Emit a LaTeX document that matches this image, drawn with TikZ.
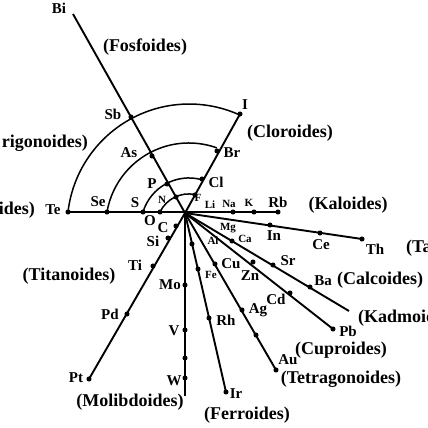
\documentclass[tikz,border=0pt]{standalone}
\usepackage{fontspec}
\setmainfont{Liberation Serif}
\begin{document}
\begin{tikzpicture}[x=1pt,y=-1pt]
	\tikzstyle{every node}+=[inner sep=0pt]
	\tikzstyle{el}=[font=\fontsize{15}{15}\selectfont\bfseries]
	\tikzstyle{sm}=[font=\fontsize{11}{11}\selectfont\bfseries]
	\tikzstyle{grp}=[font=\fontsize{18}{18}\selectfont\bfseries]
	\tikzstyle{pt}=[circle,fill=black,inner sep=1.8pt]
	\tikzstyle{ray}=[black,line width=1.9pt]
	\tikzstyle{ring}=[black,line width=1.5pt]
	\useasboundingbox (0,0) rectangle (428,428);
	% centre and free ends
	\coordinate (o) at (185,213);
	\coordinate (bi) at (73,14);
	\coordinate (mo) at (185,396);
	\coordinate (ka) at (349,311);
	% Fosfoides
	\node [pt] (Sb) at (131,117) {};
	\node [pt] (As) at (152,156) {};
	\node [pt] (P) at (167,184) {};
	\node [pt] (N) at (176,197) {};
	% Cloroides
	\node [pt] (I) at (240,114) {};
	\node [pt] (Br) at (217,151) {};
	\node [pt] (Cl) at (202,179) {};
	\node [pt] (F) at (195,195) {};
	% horizontal
	\node [pt] (Te) at (68,212) {};
	\node [pt] (Se) at (107,212) {};
	\node [pt] (S) at (143,212) {};
	\node [pt] (O) at (160,212) {};
	\node [pt] (Na) at (233,212) {};
	\node [pt] (K) at (254,212) {};
	\node [pt] (Rb) at (278,212) {};
	% Titanoides
	\node [pt] (C) at (176,226) {};
	\node [pt] (Si) at (168,238) {};
	\node [pt] (Ti) at (153,266) {};
	\node [pt] (Pd) at (127,314) {};
	\node [pt] (Pt) at (89,379) {};
	% Molibdoides
	\node [pt] (Mo) at (185,285) {};
	\node [pt] (V) at (185,330) {};
	\node [pt] (mx) at (185,358) {};
	\node [pt] (W) at (185,378) {};
	% Ferroides
	\node [pt] (Al) at (192,244) {};
	\node [pt] (Fe) at (198,269) {};
	\node [pt] (Rh) at (209,318) {};
	\node [pt] (Ir) at (226,392) {};
	% Tetragonoides
	\node [pt] (Cu) at (215,264) {};
	\node [pt] (Ag) at (242,310) {};
	\node [pt] (tx) at (256,335) {};
	\node [pt] (Au) at (276,370) {};
	% Cuproides
	\node [pt] (Zn) at (253,262) {};
	\node [pt] (Cd) at (290,293) {};
	\node [pt] (Pb) at (333,329) {};
	% Kadmoides
	\node [pt] (Ca) at (232,241) {};
	\node [pt] (Sr) at (273,265) {};
	\node [pt] (Ba) at (310,287) {};
	% Calcoides
	\node [pt] (In) at (270,225) {};
	\node [pt] (Ce) at (320,233) {};
	\node [pt] (Th) at (362,239) {};
	% rays
	\draw [ray] (o) -- (bi);
	\draw [ray] (o) -- (I.center);
	\draw [ray] (Te.center) -- (Rb.center);
	\draw [ray] (o) -- (Pt.center);
	\draw [ray,line width=2.4pt] (o) -- (mo);
	\draw [ray] (o) -- (Ir.center);
	\draw [ray] (o) -- (Au.center);
	\draw [ray] (o) -- (Pb.center);
	\draw [ray] (o) -- (ka);
	\draw [ray] (o) -- (Th.center);
	% arcs
	\draw [ring] (Te.center) arc [start angle=186.6, end angle=294.5, radius=122];
	\draw [ring] (Se.center) arc [start angle=189.7, end angle=289.8, radius=83];
	\draw [ring] (S.center) arc [start angle=196.9, end angle=285.5, radius=48];
	\draw [ring] (O.center) arc [start angle=205.8, end angle=281, radius=32];
	% labels
	\node [el] (lBi) at (59,8) {Bi};
	\node [el] (lSb) at (113,114) {Sb};
	\node [el] (lAs) at (129,153) {As};
	\node [el] (lP) at (152,184) {P};
	\node [sm] (lN) at (162,200) {N};
	\node [el] (lI) at (245,105) {I};
	\node [el] (lBr) at (232,153) {Br};
	\node [el] (lCl) at (216,182) {Cl};
	\node [sm] (lF) at (198,198) {F};
	\node [sm] (lLi) at (210,205) {Li};
	\node [sm] (lNa) at (229,204) {Na};
	\node [sm] (lK) at (249,203) {K};
	\node [el] (lRb) at (278,202) {Rb};
	\node [el] (lTe) at (53,210) {Te};
	\node [el] (lSe) at (98,202) {Se};
	\node [el] (lS) at (135,203) {S};
	\node [el] (lO) at (150,221) {O};
	\node [el] (lC) at (163,228) {C};
	\node [el] (lSi) at (153,241) {Si};
	\node [el] (lTi) at (135,265) {Ti};
	\node [el] (lPd) at (110,314) {Pd};
	\node [el] (lPt) at (76,378) {Pt};
	\node [el] (lMo) at (170,285) {Mo};
	\node [el] (lV) at (174,331) {V};
	\node [el] (lW) at (174,381) {W};
	\node [sm] (lAl) at (213,241) {Al};
	\node [sm] (lFe) at (211,275) {Fe};
	\node [el] (lRh) at (226,320) {Rh};
	\node [el] (lIr) at (236,394) {Ir};
	\node [el] (lCu) at (231,264) {Cu};
	\node [el] (lAg) at (258,310) {Ag};
	\node [el] (lAu) at (288,360) {Au};
	\node [el] (lZn) at (250,276) {Zn};
	\node [el] (lCd) at (276,299) {Cd};
	\node [el] (lPb) at (348,331) {Pb};
	\node [sm] (lMg) at (228,228) {Mg};
	\node [sm] (lCa) at (245,239) {Ca};
	\node [el] (lSr) at (288,261) {Sr};
	\node [el] (lBa) at (323,281) {Ba};
	\node [el] (lIn) at (274,236) {In};
	\node [el] (lCe) at (321,245) {Ce};
	\node [el] (lTh) at (375,249) {Th};
	% groups
	\node [grp] (gFos) at (145,47) {(Fosfoides)};
	\node [grp,anchor=east] (gTri) at (88,143) {rigonoides)};
	\node [grp,anchor=east] (gTio) at (35,210) {ides)};
	\node [grp] (gClo) at (290,133) {(Cloroides)};
	\node [grp] (gKal) at (348,205) {(Kaloides)};
	\node [grp] (gTit) at (69,276) {(Titanoides)};
	\node [grp] (gMol) at (130,402) {(Molibdoides)};
	\node [grp] (gFer) at (247,415) {(Ferroides)};
	\node [grp] (gTet) at (341,379) {(Tetragonoides)};
	\node [grp] (gCup) at (341,350) {(Cuproides)};
	\node [grp] (gCal) at (380,280) {(Calcoides)};
	\node [grp,anchor=west] (gKad) at (358,318) {(Kadmoid};
	\node [grp,anchor=west] (gTa) at (406,248) {(Ta};
\end{tikzpicture}
\end{document}
